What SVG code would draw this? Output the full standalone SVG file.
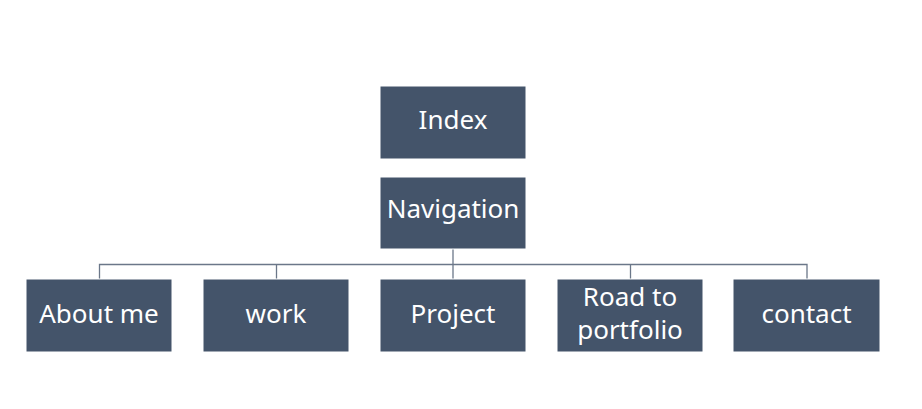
<svg xmlns="http://www.w3.org/2000/svg" width="922" height="409" viewBox="0 0 922 409">
<style>
.box{fill:#44546A;stroke:#ffffff;stroke-width:1}
.lbl{font-family:"Noto Sans","Open Sans","DejaVu Sans",sans-serif;font-size:26px;fill:#ffffff;text-anchor:middle}
.conn{stroke:#6b7789;stroke-width:1.3;fill:none}
</style>
<rect width="922" height="409" fill="#ffffff"/>
<g id="connectors">
<path class="conn" d="M453,249 V279"/>
<path class="conn" d="M99.5,279 V264.5 H807 V279"/>
<path class="conn" d="M276.5,264.5 V279"/>
<path class="conn" d="M630.5,264.5 V279"/>
</g>
<g id="index"><rect class="box" x="380" y="86" width="146" height="73"/><text class="lbl" x="453" y="129">Index</text></g>
<g id="navigation"><rect class="box" x="380" y="177" width="146" height="72"/><text class="lbl" x="453" y="218">Navigation</text></g>
<g id="about"><rect class="box" x="26" y="279" width="146" height="73"/><text class="lbl" x="99" y="323">About me</text></g>
<g id="work"><rect class="box" x="203" y="279" width="146" height="73"/><text class="lbl" x="276" y="323">work</text></g>
<g id="project"><rect class="box" x="380" y="279" width="146" height="73"/><text class="lbl" x="453" y="323">Project</text></g>
<g id="road"><rect class="box" x="557" y="279" width="146" height="73"/><text class="lbl" x="630" y="306">Road to</text><text class="lbl" x="630" y="339">portfolio</text></g>
<g id="contact"><rect class="box" x="733" y="279" width="147" height="73"/><text class="lbl" x="806.5" y="323">contact</text></g>
</svg>
